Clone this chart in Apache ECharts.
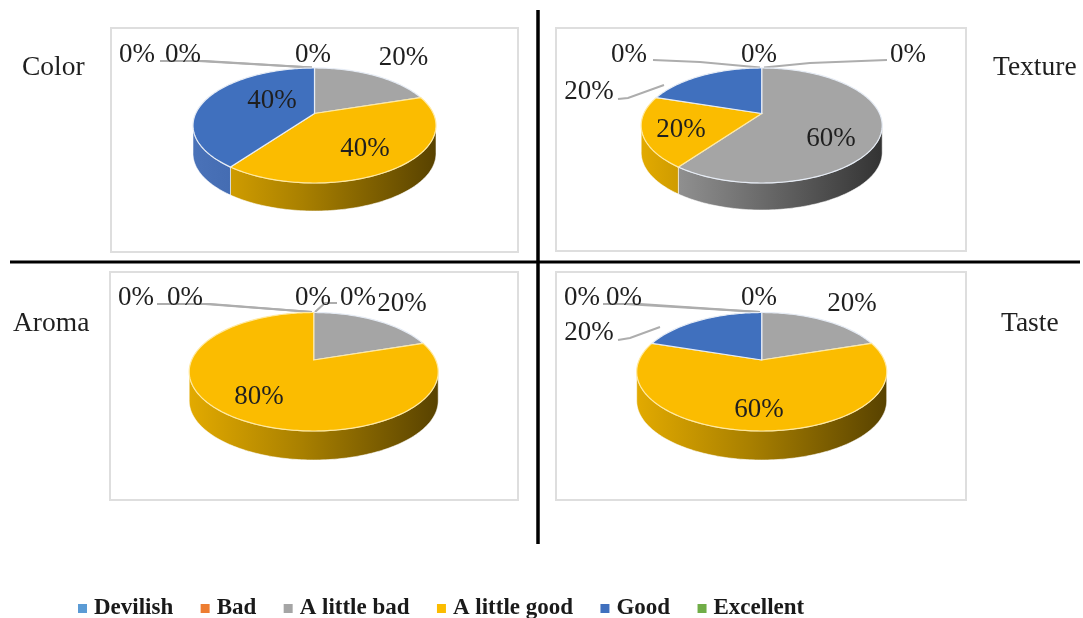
<!DOCTYPE html>
<html><head><meta charset="utf-8">
<style>html,body{margin:0;padding:0;background:#fff}#c{width:1083px;height:618px;filter:blur(0.7px)}</style>
<script src="https://cdn.jsdelivr.net/npm/echarts@6/dist/echarts.min.js"></script>
</head><body><div id="c"></div>
<script>
// ---- data ----
const categories = ['Devilish','Bad','A little bad','A little good','Good','Excellent'];
const panelNames = ['Color','Texture','Aroma','Taste'];
const colorValues   = [0,0,20,40,40,0];
const textureValues = [0,0,60,20,20,0];
const aromaValues   = [0,0,20,80,0,0];
const tasteValues   = [0,0,20,60,20,0];
const panelValues = [colorValues,textureValues,aromaValues,tasteValues];

// ---- layout and style ----
const sliceColors = ['#5B9BD5','#ED7D31','#A5A5A5','#FBBC00','#4070BE','#70AD47'];
const wallStops = {
  2:['#A0A0A0','#707070','#333333'],
  3:['#E2AA00','#A98000','#584200'],
  4:['#4A72B8','#3A62A8','#2A4C88']
};
const geometry = [
  {cx:314.5,cy:113.5,rx:121.5,top:68,bottom:183,depth:28},
  {cx:761.7,cy:113.5,rx:120.5,top:68,bottom:183,depth:27},
  {cx:313.7,cy:360,rx:124.5,top:312.5,bottom:431,depth:29},
  {cx:761.7,cy:360,rx:125,top:312.5,bottom:431,depth:29}
];
const labelSpots = [
  [[183,54.5],[137,54.5],[403.5,58],[365,149],[272,100.5],[313,54.5]],
  [[908,54.5],[759,54.5],[831,138.5],[681,129.5],[589,91.5],[629,54.5]],
  [[358,298],[313,298],[402,303.5],[259,396.5],[185,298],[136,298]],
  [[759,298],[624,298],[852,303.5],[759,409.5],[589,333],[582,298]]
];
const leaders = [
  [[160,61],[205,61],[312,67.5]], [[198,61],[312,67.5]],
  [[653,60],[700,62],[760,67.5]], [[887,60],[810,63],[764,67.5]], [[618,99],[628,98],[664,85]],
  [[157,304],[210,304],[312,312]], [[205,304],[312,312]], [[315,312],[325,303],[337,303]],
  [[603,304],[640,304],[760,312]], [[625,304],[760,312]], [[618,340],[630,338],[660,327]]
];
const frames = [[111,28,407,224],[556,28,410,223],[110,272,408,228],[556,272,410,228]];
const titleSpots = [[22,54],[993,54],[13,310],[1001,310]];
const serif = '"Liberation Serif","Times New Roman",serif';

function project(g,theta){
  const up=g.cy-g.top, dn=g.bottom-g.cy;
  const k=(dn-up)/(dn+up), a=dn*(1-k), r0=g.rx*Math.sqrt(1-k*k);
  const u=Math.sin(theta), v=-Math.cos(theta), w=1-k*v;
  return [g.cx+r0*u/w, g.cy+a*v/w];
}
function arc(g,t0,t1,dy){
  const n=Math.max(2,Math.ceil(Math.abs(t1-t0)/0.02)), pts=[];
  for(let i=0;i<=n;i++){const p=project(g,t0+(t1-t0)*i/n);pts.push([p[0],p[1]+dy]);}
  return pts;
}
function renderSlice(params,api){
  const panel=api.value(0), value=api.value(1), cat=params.seriesIndex;
  const g=geometry[panel], vals=panelValues[panel];
  const before=vals.slice(0,cat).reduce((s,x)=>s+x,0);
  const t0=before/100*2*Math.PI, t1=(before+value)/100*2*Math.PI;
  const children=[];
  if(value>0){
    const up=g.cy-g.top, dn=g.bottom-g.cy, k=(dn-up)/(dn+up);
    const vis0=Math.acos(-k), vis1=2*Math.PI-vis0;
    const a0=Math.max(t0,vis0), a1=Math.min(t1,vis1);
    if(a1>a0){
      const topEdge=arc(g,a0,a1,0), lowEdge=arc(g,a1,a0,g.depth);
      const st=wallStops[cat];
      children.push({type:'polygon',z2:1,shape:{points:topEdge.concat(lowEdge)},
        style:{fill:new echarts.graphic.LinearGradient(g.cx-g.rx,0,g.cx+g.rx,0,
          [{offset:0,color:st[0]},{offset:0.45,color:st[1]},{offset:1,color:st[2]}],true),
          stroke:'rgba(255,255,255,0.55)',lineWidth:1}});
    }
    const face=[[g.cx,g.cy]].concat(arc(g,t0,t1,0));
    children.push({type:'polygon',z2:2,shape:{points:face},
      style:{fill:sliceColors[cat],stroke:cat===3?'#FFE9A0':'#E6ECF5',lineWidth:1.2}});
  }
  const spot=labelSpots[panel][cat];
  children.push({type:'text',z2:50,style:{x:spot[0],y:spot[1],text:value+'%',
    font:'27px '+serif,fill:'#1f1f1f',textAlign:'center',textVerticalAlign:'middle'}});
  return {type:'group',children};
}

const series=categories.map((name,c)=>({
  type:'custom',name,coordinateSystem:'none',animation:false,silent:true,
  itemStyle:{color:sliceColors[c]},
  renderItem:renderSlice,
  data:panelValues.map((vals,p)=>[p,vals[c]])
}));

const graphic=[];
frames.forEach(f=>graphic.push({type:'rect',silent:true,z:-1,
  shape:{x:f[0],y:f[1],width:f[2],height:f[3]},style:{fill:'#fff',stroke:'#DEDEDE',lineWidth:2}}));
leaders.forEach(l=>graphic.push({type:'polyline',silent:true,z:1,
  shape:{points:l},style:{fill:null,stroke:'#ADADAD',lineWidth:2}}));
graphic.push({type:'line',silent:true,shape:{x1:538,y1:10,x2:538,y2:544},style:{stroke:'#000',lineWidth:3.5}});
graphic.push({type:'line',silent:true,shape:{x1:10,y1:262,x2:1080,y2:262},style:{stroke:'#000',lineWidth:3}});

const chart=echarts.init(document.getElementById('c'),null,{renderer:'canvas'});
chart.setOption({
  animation:false,
  backgroundColor:'#fff',
  title:panelNames.map((text,i)=>({text,left:titleSpots[i][0],top:titleSpots[i][1],padding:0,
    textStyle:{fontFamily:serif,fontSize:27.5,fontWeight:'normal',color:'#1f1f1f'}})),
  legend:{left:78,top:597,itemWidth:9,itemHeight:9,itemGap:27.4,icon:'rect',padding:0,
    data:categories,selectedMode:false,
    textStyle:{fontFamily:serif,fontSize:23,fontWeight:'bold',color:'#1a1a1a',padding:[0,0,0,2]}},
  graphic,
  series
});
</script></body></html>
